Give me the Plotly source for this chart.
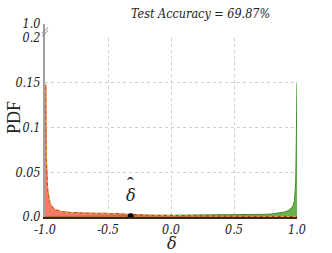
import plotly.graph_objects as go

# ---- data ----
red_x = [-1.0, -0.993, -0.99, -0.985, -0.98, -0.975, -0.97, -0.96, -0.95, -0.94, -0.93, -0.92,
         -0.90, -0.88, -0.86, -0.84, -0.82, -0.80, -0.77, -0.74, -0.71, -0.68, -0.65, -0.62,
         -0.59, -0.56, -0.53, -0.50, -0.47, -0.44, -0.41, -0.38, -0.35, -0.32, -0.29, -0.26,
         -0.23, -0.20, -0.15, -0.10, -0.05, 0.0, 0.1, 0.2, 0.3, 0.4, 0.5, 0.6, 0.7, 0.8, 0.9, 1.0]
red_y = [0.148, 0.148, 0.07, 0.045, 0.034, 0.027, 0.022, 0.016, 0.013, 0.011, 0.0095, 0.0085,
         0.0072, 0.0065, 0.006, 0.0055, 0.0052, 0.005, 0.0048, 0.0052, 0.0046, 0.0044, 0.0049, 0.0042,
         0.0045, 0.0040, 0.0043, 0.0038, 0.0036, 0.0040, 0.0034, 0.0032, 0.0030, 0.0031, 0.0027, 0.0026,
         0.0024, 0.0022, 0.0020, 0.0018, 0.0016, 0.0015, 0.0013, 0.0012, 0.0011, 0.0010, 0.0009, 0.0008,
         0.0008, 0.0007, 0.0006, 0.0005]

green_x = [-1.0, -0.8, -0.6, -0.4, -0.2, 0.0, 0.2, 0.4, 0.5, 0.6, 0.7, 0.75, 0.8, 0.84, 0.88,
           0.90, 0.92, 0.94, 0.96, 0.97, 0.98, 0.985, 0.99, 0.993, 0.996, 1.0]
green_y = [0.0006, 0.0008, 0.001, 0.0012, 0.0014, 0.0016, 0.0018, 0.0020, 0.0021, 0.0024, 0.0027,
           0.0030, 0.0034, 0.0040, 0.0048, 0.0055, 0.0065, 0.008, 0.011, 0.013, 0.018, 0.025,
           0.04, 0.07, 0.15, 0.15]

delta_hat = -0.32
title_text = "Test Accuracy = 69.87%"
x_ticks = [-1.0, -0.5, 0.0, 0.5, 1.0]
x_ticklabels = ["-1.0", "-0.5", "0.0", "0.5", "1.0"]
y_ticks = [0.0, 0.05, 0.1, 0.15, 0.2]
y_ticklabels = ["0.0", "0.05", "0.1", "0.15", "0.2"]
y_top_ticks = [1.0]
y_top_ticklabels = ["1.0"]

ITAL = "DejaVu Serif Condensed, DejaVu Serif"


def f(fam, size=12, style="italic"):
    return dict(family=fam, size=size, color="#222", style=style)


fig = go.Figure()
fig.add_trace(go.Scatter(x=green_x, y=green_y, mode="lines", fill="tozeroy",
                         line=dict(color="#3f8f25", width=1),
                         fillcolor="rgba(90,170,60,0.9)", hoverinfo="skip"))
fig.add_trace(go.Scatter(x=red_x, y=red_y, mode="lines", fill="tozeroy",
                         line=dict(color="#c0341e", width=1),
                         fillcolor="rgba(240,90,65,0.8)", hoverinfo="skip"))
fig.add_trace(go.Scatter(x=red_x, y=red_y, mode="lines",
                         line=dict(color="#d9c43a", width=1, dash="dot"), hoverinfo="skip"))
fig.add_trace(go.Scatter(x=[delta_hat], y=[0.0008], mode="markers",
                         marker=dict(color="black", size=6), hoverinfo="skip"))
# empty trace so the top (broken-axis) panel exists
fig.add_trace(go.Scatter(x=[], y=[], xaxis="x2", yaxis="y2", hoverinfo="skip"))

dom_split = 179 / 193
grid = dict(showgrid=True, gridcolor="#cfcfcf", griddash="dot", gridwidth=1)

fig.update_layout(
    width=332, height=253,
    margin=dict(l=45, r=35, t=24, b=36),
    paper_bgcolor="white", plot_bgcolor="white",
    showlegend=False,
    xaxis=dict(range=[-1, 1], tickvals=x_ticks, ticktext=x_ticklabels,
               tickfont=f(ITAL, 12.5),
               ticks="", zeroline=False, showline=True, linecolor="#3a2a18", linewidth=2,
               anchor="y", domain=[0, 1], **grid),
    yaxis=dict(range=[0, 0.2], tickvals=y_ticks, ticktext=y_ticklabels,
               tickfont=f(ITAL, 12.5),
               ticks="", zeroline=False, showline=True, linecolor="#a0a0a0", linewidth=2,
               domain=[0, dom_split], anchor="x", **grid),
    xaxis2=dict(range=[-1, 1], showticklabels=False, showgrid=False, zeroline=False,
                showline=False, anchor="y2", domain=[0, 1]),
    yaxis2=dict(range=[0.2, 1.0], tickvals=y_top_ticks, ticktext=y_top_ticklabels,
                tickfont=f(ITAL, 12.5),
                ticks="", zeroline=False, showline=True, linecolor="#a0a0a0", linewidth=2,
                domain=[dom_split, 1], anchor="x2", **grid),
)

# break marks on the left spine
for dy in (0.0, 0.016):
    fig.add_shape(type="line", xref="paper", yref="paper",
                  x0=-0.012, x1=0.012, y0=dom_split + 0.008 + dy, y1=dom_split + 0.038 + dy,
                  line=dict(color="#808080", width=1))

fig.add_annotation(text=title_text, xref="paper", yref="paper", x=0.333, y=1.052,
                   xanchor="left", yanchor="middle", showarrow=False,
                   font=f(ITAL, 12.5))
fig.add_annotation(text="PDF", xref="paper", yref="paper", x=-0.123, y=0.513,
                   textangle=-90, xanchor="center", yanchor="middle", showarrow=False,
                   font=f("Liberation Serif", 18, "normal"))
fig.add_annotation(text="δ", xref="paper", yref="paper", x=0.504, y=-0.137,
                   xanchor="center", yanchor="middle", showarrow=False,
                   font=f("DejaVu Serif", 16))
fig.add_annotation(text="δ", xref="x", yref="paper", x=delta_hat, y=0.112,
                   xanchor="center", yanchor="middle", showarrow=False,
                   font=f("DejaVu Serif", 16))
fig.add_annotation(text="ˆ", xref="x", yref="paper", x=delta_hat, y=0.168,
                   xanchor="center", yanchor="middle", showarrow=False,
                   font=f("Liberation Serif", 20, "normal"))

fig.write_html("out.html", config={"displayModeBar": False},
               post_script="document.body.style.margin='0';")
